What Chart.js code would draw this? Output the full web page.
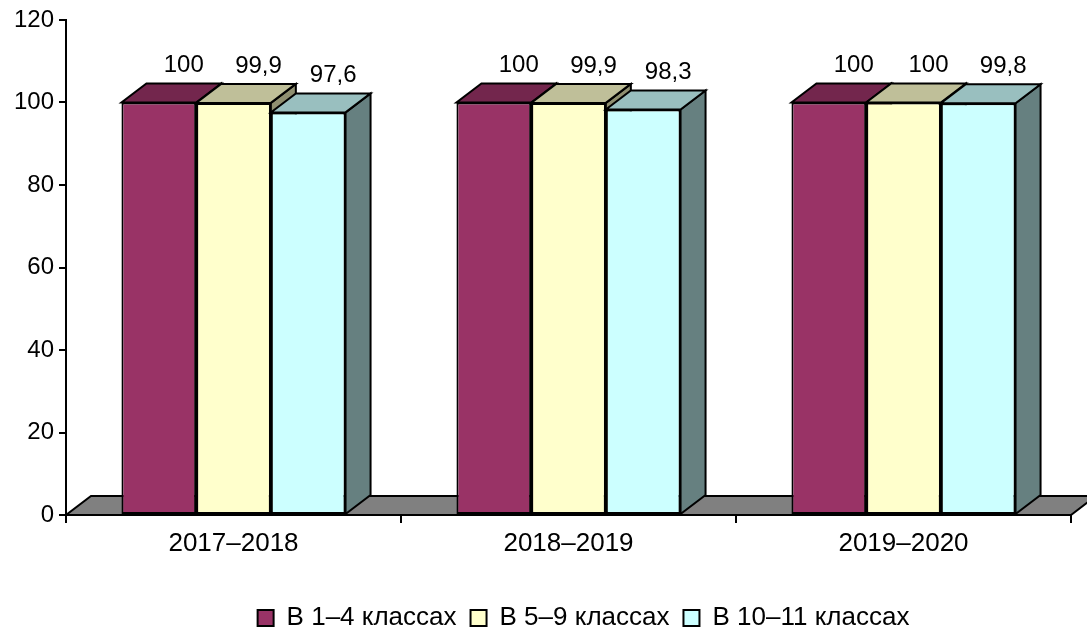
<!DOCTYPE html>
<html>
<head>
<meta charset="utf-8">
<script src="https://cdn.jsdelivr.net/npm/chart.js@4.4.0/dist/chart.umd.min.js"></script>
<style>
  html, body { margin: 0; padding: 0; background: #fff; }
  #wrap { width: 1087px; height: 629px; position: relative; }
</style>
</head>
<body>
<div id="wrap"><canvas id="chart"></canvas></div>
<script>
// данные
const years = ['2017–2018', '2018–2019', '2019–2020'];
const grades1to4 = [100, 100, 100];
const grades5to9 = [99.9, 99.9, 100];
const grades10to11 = [97.6, 98.3, 99.8];
const seriesNames = ['В 1–4 классах', 'В 5–9 классах', 'В 10–11 классах'];
const yMin = 0, yMax = 120, yStep = 20;

// цвета: лицевая грань, верх, бок
const faceColors = ['#993366', '#FFFFCC', '#CCFFFF'];
const topColors = ['#73264D', '#BFBF99', '#99BFBF'];
const sideColors = ['#4D1A33', '#8F8F70', '#668080'];

const FONT = "'Liberation Sans', Arial, sans-serif";
const DEPTH_X = 25, DEPTH_Y = 19;
const LEGEND_SHIFT = 48;

function poly(ctx, pts, fill) {
  ctx.beginPath();
  ctx.moveTo(pts[0][0], pts[0][1]);
  for (let i = 1; i < pts.length; i++) ctx.lineTo(pts[i][0], pts[i][1]);
  ctx.closePath();
  ctx.fillStyle = fill;
  ctx.fill();
  ctx.stroke();
}

function barBox(bar) {
  const p = bar.getProps(['x', 'y', 'base', 'width'], true);
  return { x0: p.x - p.width / 2, x1: p.x + p.width / 2, top: p.y, base: p.base, cx: p.x };
}

// объём: пол и боковые грани под столбцами, верхние грани и подписи поверх
const box3d = {
  id: 'box3d',
  afterLayout(chart) {
    // легенда в оригинале смещена вправо
    if (chart.legend) {
      chart.legend.left += LEGEND_SHIFT;
      chart.legend.right += LEGEND_SHIFT;
    }
  },
  beforeDatasetsDraw(chart) {
    const { ctx, chartArea: a } = chart;
    ctx.save();
    ctx.strokeStyle = '#000';
    ctx.lineWidth = 2;
    poly(ctx, [[a.left, a.bottom], [a.right, a.bottom],
               [a.right + DEPTH_X, a.bottom - DEPTH_Y], [a.left + DEPTH_X, a.bottom - DEPTH_Y]], '#808080');
    chart.data.datasets.forEach((ds, i) => {
      chart.getDatasetMeta(i).data.forEach(bar => {
        const b = barBox(bar);
        poly(ctx, [[b.x1, b.top], [b.x1 + DEPTH_X, b.top - DEPTH_Y],
                   [b.x1 + DEPTH_X, b.base - DEPTH_Y], [b.x1, b.base]], sideColors[i]);
      });
    });
    ctx.restore();
  },
  afterDatasetsDraw(chart) {
    const { ctx } = chart;
    ctx.save();
    ctx.strokeStyle = '#000';
    ctx.lineWidth = 2;
    chart.data.datasets.forEach((ds, i) => {
      chart.getDatasetMeta(i).data.forEach(bar => {
        const b = barBox(bar);
        poly(ctx, [[b.x0, b.top], [b.x1, b.top],
                   [b.x1 + DEPTH_X, b.top - DEPTH_Y], [b.x0 + DEPTH_X, b.top - DEPTH_Y]], topColors[i]);
      });
    });
    ctx.fillStyle = '#000';
    ctx.font = '24px ' + FONT;
    ctx.textAlign = 'center';
    ctx.textBaseline = 'middle';
    chart.data.datasets.forEach((ds, i) => {
      chart.getDatasetMeta(i).data.forEach((bar, j) => {
        const b = barBox(bar);
        const txt = String(ds.data[j]).replace('.', ',');
        ctx.fillText(txt, b.cx + DEPTH_X, b.top - DEPTH_Y - 18);
      });
    });
    ctx.restore();
  }
};

const allSeries = [grades1to4, grades5to9, grades10to11];

new Chart(document.getElementById('chart'), {
  type: 'bar',
  data: {
    labels: years,
    datasets: allSeries.map((vals, i) => ({
      label: seriesNames[i],
      data: vals,
      backgroundColor: faceColors[i],
      borderColor: '#000',
      borderWidth: 2,
      borderSkipped: false,
      barPercentage: 1,
      categoryPercentage: 0.669
    }))
  },
  options: {
    responsive: true,
    maintainAspectRatio: false,
    devicePixelRatio: 1,
    animation: false,
    layout: { padding: { left: 0, right: 16, top: 20, bottom: -12 } },
    plugins: {
      tooltip: { enabled: false },
      legend: {
        position: 'bottom',
        labels: {
          color: '#000',
          font: { family: FONT, size: 26 },
          boxWidth: 16,
          boxHeight: 16,
          padding: 14
        }
      }
    },
    scales: {
      x: {
        afterFit: s => { s.height = 76; },
        border: { display: true, color: '#000', width: 2 },
        grid: { display: true, drawOnChartArea: false, drawTicks: true, tickLength: 8, color: '#000', lineWidth: 2, offset: true },
        ticks: { color: '#000', font: { family: FONT, size: 26 }, padding: 5 }
      },
      y: {
        min: yMin,
        max: yMax,
        afterFit: s => { s.width = 66; },
        border: { display: true, color: '#000', width: 2 },
        grid: { display: true, drawOnChartArea: false, drawTicks: true, tickLength: 7, color: '#000', lineWidth: 2 },
        ticks: { stepSize: yStep, color: '#000', font: { family: FONT, size: 24 }, padding: 5 }
      }
    }
  },
  plugins: [box3d]
});
</script>
</body>
</html>
